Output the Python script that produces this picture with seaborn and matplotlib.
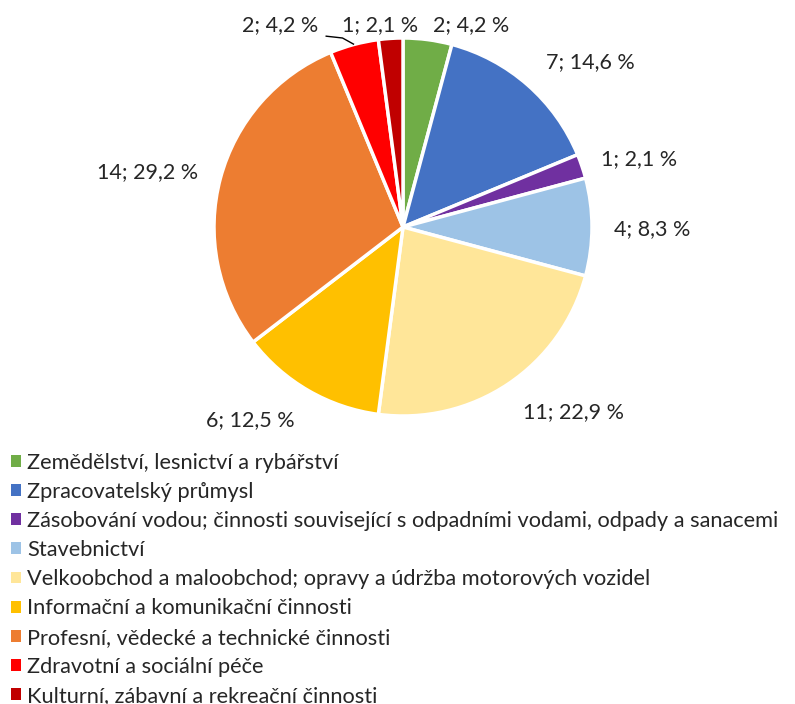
import matplotlib
matplotlib.use("Agg")
import matplotlib.pyplot as plt
import seaborn as sns
import numpy as np
from matplotlib.patches import Patch

categories = [
    "Zemědělství, lesnictví a rybářství",
    "Zpracovatelský průmysl",
    "Zásobování vodou; činnosti související s odpadními vodami, odpady a sanacemi",
    "Stavebnictví",
    "Velkoobchod a maloobchod; opravy a údržba motorových vozidel",
    "Informační a komunikační činnosti",
    "Profesní, vědecké a technické činnosti",
    "Zdravotní a sociální péče",
    "Kulturní, zábavní a rekreační činnosti",
]
counts = [2, 7, 1, 4, 11, 6, 14, 2, 1]
percents = ["4,2", "14,6", "2,1", "8,3", "22,9", "12,5", "29,2", "4,2", "2,1"]
colors = ["#70AD47", "#4472C4", "#7030A0", "#9DC3E6", "#FFE699",
          "#FFC000", "#ED7D31", "#FF0000", "#C00000"]

# label placement (layout only, in units of pie radius)
label_pos = [(0.36, 1.07), (0.99, 0.87), (1.25, 0.36), (1.32, -0.01),
             (0.90, -0.98), (-0.81, -1.02), (-1.35, 0.29), (-0.65, 1.07),
             (-0.12, 1.07)]

sns.set_theme(style="white")
plt.rcParams["font.family"] = ["Lato", "DejaVu Sans"]

W, H = 795, 704
fig = plt.figure(figsize=(W / 100, H / 100), dpi=100)
ax = fig.add_axes([0, 0, 1, 1])
cx, cy, R = 403, 227, 189

wedges, _ = ax.pie(counts, colors=sns.color_palette(colors), startangle=90,
                   counterclock=False, radius=1.0,
                   wedgeprops=dict(edgecolor="white", linewidth=2.5))
ax.set_aspect("equal")
ax.set_xlim(-cx / R, (W - cx) / R)
ax.set_ylim(-(H - cy) / R, cy / R)
ax.set_axis_off()

for i, (c, p) in enumerate(zip(counts, percents)):
    ax.text(label_pos[i][0], label_pos[i][1], f"{c}; {p} %", ha="center",
            va="center", fontsize=15.5, color="#262626")

# leader line for red slice
w = wedges[7]
ang = np.deg2rad((w.theta1 + w.theta2) / 2)
ex, ey = np.cos(ang), np.sin(ang)
ax.plot([-0.41, -0.32, ex], [1.01, 1.0, ey], color="black", lw=1, solid_capstyle="butt")

handles = [Patch(facecolor=col, edgecolor="none") for col in colors]
fig.legend(handles, categories, loc="upper left", bbox_to_anchor=(0.014, 0.357),
           frameon=False, fontsize=15.7, handlelength=0.46, handleheight=0.46,
           handletextpad=0.28, labelspacing=0.42, borderaxespad=0, borderpad=0)

fig.savefig("out.png", dpi=100)
